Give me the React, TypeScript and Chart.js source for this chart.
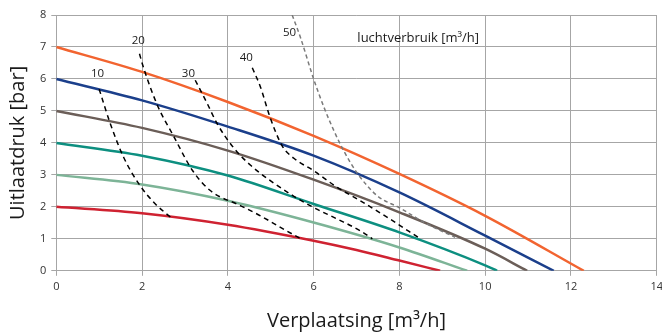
import React, { useEffect, useRef } from "react";
import { Chart, registerables } from "chart.js";

Chart.register(...registerables);

// Pump curves (displacement m3/h -> outlet pressure bar), one per supply pressure
const redX = [0, 2, 4, 6, 7, 8, 8.95];
const redY = [2, 1.8, 1.44, 0.94, 0.65, 0.32, 0];
const lightGreenX = [0, 2, 4, 6, 8, 9.58];
const lightGreenY = [3, 2.7, 2.19, 1.51, 0.73, 0];
const tealX = [0, 2, 4, 6, 8, 10, 10.28];
const tealY = [4, 3.6, 2.98, 2.09, 1.2, 0.17, 0];
const brownX = [0, 2, 4, 6, 8, 10, 10.98];
const brownY = [5, 4.47, 3.76, 2.85, 1.83, 0.69, 0];
const blueX = [0, 2, 4, 6, 8, 10, 11.6];
const blueY = [6, 5.33, 4.51, 3.6, 2.45, 1.1, 0];
const orangeX = [0, 2, 4, 6, 8, 10, 12.3];
const orangeY = [7, 6.22, 5.28, 4.22, 3.03, 1.72, 0];

// Air consumption curves (luchtverbruik)
const air10X = [1.0, 1.26, 1.57, 1.96, 2.31, 2.66];
const air10Y = [5.68, 4.6, 3.55, 2.65, 2.09, 1.68];
const air20X = [1.94, 2.0, 2.35, 2.74, 3.18, 3.59, 4.29, 4.76, 5.2, 5.7];
const air20Y = [6.79, 6.5, 5.2, 4.2, 3.13, 2.51, 2.04, 1.72, 1.38, 1.0];
const air30X = [3.24, 3.52, 3.75, 4.14, 4.53, 4.99, 5.54, 6.0, 6.55, 7.09, 7.37];
const air30Y = [5.96, 5.23, 4.6, 3.84, 3.3, 2.82, 2.33, 1.98, 1.62, 1.25, 1.0];
const air40X = [4.57, 4.76, 4.99, 5.27, 5.54, 6.0, 6.55, 7.09, 7.72, 8.49];
const air40Y = [6.35, 5.75, 4.78, 3.9, 3.52, 3.13, 2.61, 2.19, 1.67, 1.0];
const air50X = [5.5, 5.69, 6.0, 6.24, 6.47, 6.7, 7.02, 7.48, 7.99, 8.65, 9.3];
const air50Y = [8.0, 7.31, 6.0, 5.12, 4.39, 3.76, 3.05, 2.35, 1.98, 1.46, 1.05];

// Curve labels
const labelTexts = ["10", "20", "30", "40", "50"];
const labelX = [0.96, 1.91, 3.08, 4.43, 5.44];
const labelY = [6.15, 7.21, 6.15, 6.65, 7.46];
const legendText = "luchtverbruik [m³/h]";
const legendX = 7.02;
const legendY = 7.27;

const xTicksMin = 0;
const xTicksMax = 14;
const xStep = 2;
const yTicksMin = 0;
const yTicksMax = 8;
const yStep = 1;

const toPts = (xs: number[], ys: number[]) => xs.map((x, i) => ({ x, y: ys[i] }));

const FONT = "'Open Sans', 'Noto Sans', sans-serif";

const textPlugin = {
  id: "curveLabels",
  afterDatasetsDraw(chart: any) {
    const { ctx, scales } = chart;
    const xs = scales.x;
    const ys = scales.y;
    ctx.save();
    ctx.fillStyle = "#1a1a1a";
    ctx.textBaseline = "middle";
    ctx.font = `11.5px ${FONT}`;
    ctx.textAlign = "center";
    labelTexts.forEach((t, i) => {
      ctx.fillText(t, xs.getPixelForValue(labelX[i]), ys.getPixelForValue(labelY[i]));
    });
    ctx.font = `13px ${FONT}`;
    ctx.textAlign = "left";
    ctx.fillText(legendText, xs.getPixelForValue(legendX), ys.getPixelForValue(legendY));
    ctx.restore();
  },
};

export default function App() {
  const ref = useRef<HTMLCanvasElement>(null);
  useEffect(() => {
    document.body.style.margin = "0";
    const solid = (xs: number[], ys: number[], color: string) => ({
      data: toPts(xs, ys),
      borderColor: color,
      backgroundColor: color,
      borderWidth: 2.5,
      pointRadius: 0,
      cubicInterpolationMode: "monotone" as const,
      fill: false,
    });
    const dashed = (xs: number[], ys: number[], color: string, dash: number[]) => ({
      data: toPts(xs, ys),
      borderColor: color,
      backgroundColor: color,
      borderWidth: 1.5,
      borderDash: dash,
      pointRadius: 0,
      cubicInterpolationMode: "monotone" as const,
      fill: false,
    });
    const chart = new Chart(ref.current!, {
      type: "line",
      data: {
        datasets: [
          dashed(air10X, air10Y, "#000000", [5, 4]),
          dashed(air20X, air20Y, "#000000", [5, 4]),
          dashed(air30X, air30Y, "#000000", [5, 4]),
          dashed(air40X, air40Y, "#000000", [5, 4]),
          dashed(air50X, air50Y, "#7a7a7a", [4, 3]),
          solid(orangeX, orangeY, "#F26430"),
          solid(blueX, blueY, "#1B3F8B"),
          solid(brownX, brownY, "#6B5E58"),
          solid(tealX, tealY, "#0D8F80"),
          solid(lightGreenX, lightGreenY, "#7DB497"),
          solid(redX, redY, "#CF2231"),
        ] as any,
      },
      options: {
        animation: false,
        responsive: false,
        layout: { padding: { left: 6, right: 0, top: 15, bottom: 0 } },
        plugins: { legend: { display: false }, tooltip: { enabled: false } },
        scales: {
          x: {
            type: "linear",
            min: xTicksMin,
            max: xTicksMax,
            ticks: { stepSize: xStep, color: "#333", font: { size: 11, family: FONT }, padding: 4 },
            grid: { color: "#a6a6a6", lineWidth: 1, tickLength: 5 },
            border: { color: "#a6a6a6" },
            title: {
              display: true,
              text: "Verplaatsing [m³/h]",
              color: "#1a1a1a",
              font: { size: 20, family: FONT },
              padding: { top: 12, bottom: 0 },
            },
          },
          y: {
            type: "linear",
            min: yTicksMin,
            max: yTicksMax,
            ticks: { stepSize: yStep, color: "#333", font: { size: 11, family: FONT }, padding: 5 },
            grid: { color: "#a6a6a6", lineWidth: 1, tickLength: 5 },
            border: { color: "#a6a6a6" },
            title: {
              display: true,
              text: "Uitlaatdruk [bar]",
              color: "#1a1a1a",
              font: { size: 20, family: FONT },
              padding: { top: 0, bottom: 5 },
            },
          },
        },
      },
      plugins: [textPlugin],
    });
    return () => chart.destroy();
  }, []);
  return (
    <div style={{ position: "fixed", left: 0, top: 0, width: 662, height: 333, overflow: "hidden" }}>
      <canvas ref={ref} width={667} height={333} style={{ width: 667, height: 333, display: "block" }} />
    </div>
  );
}
